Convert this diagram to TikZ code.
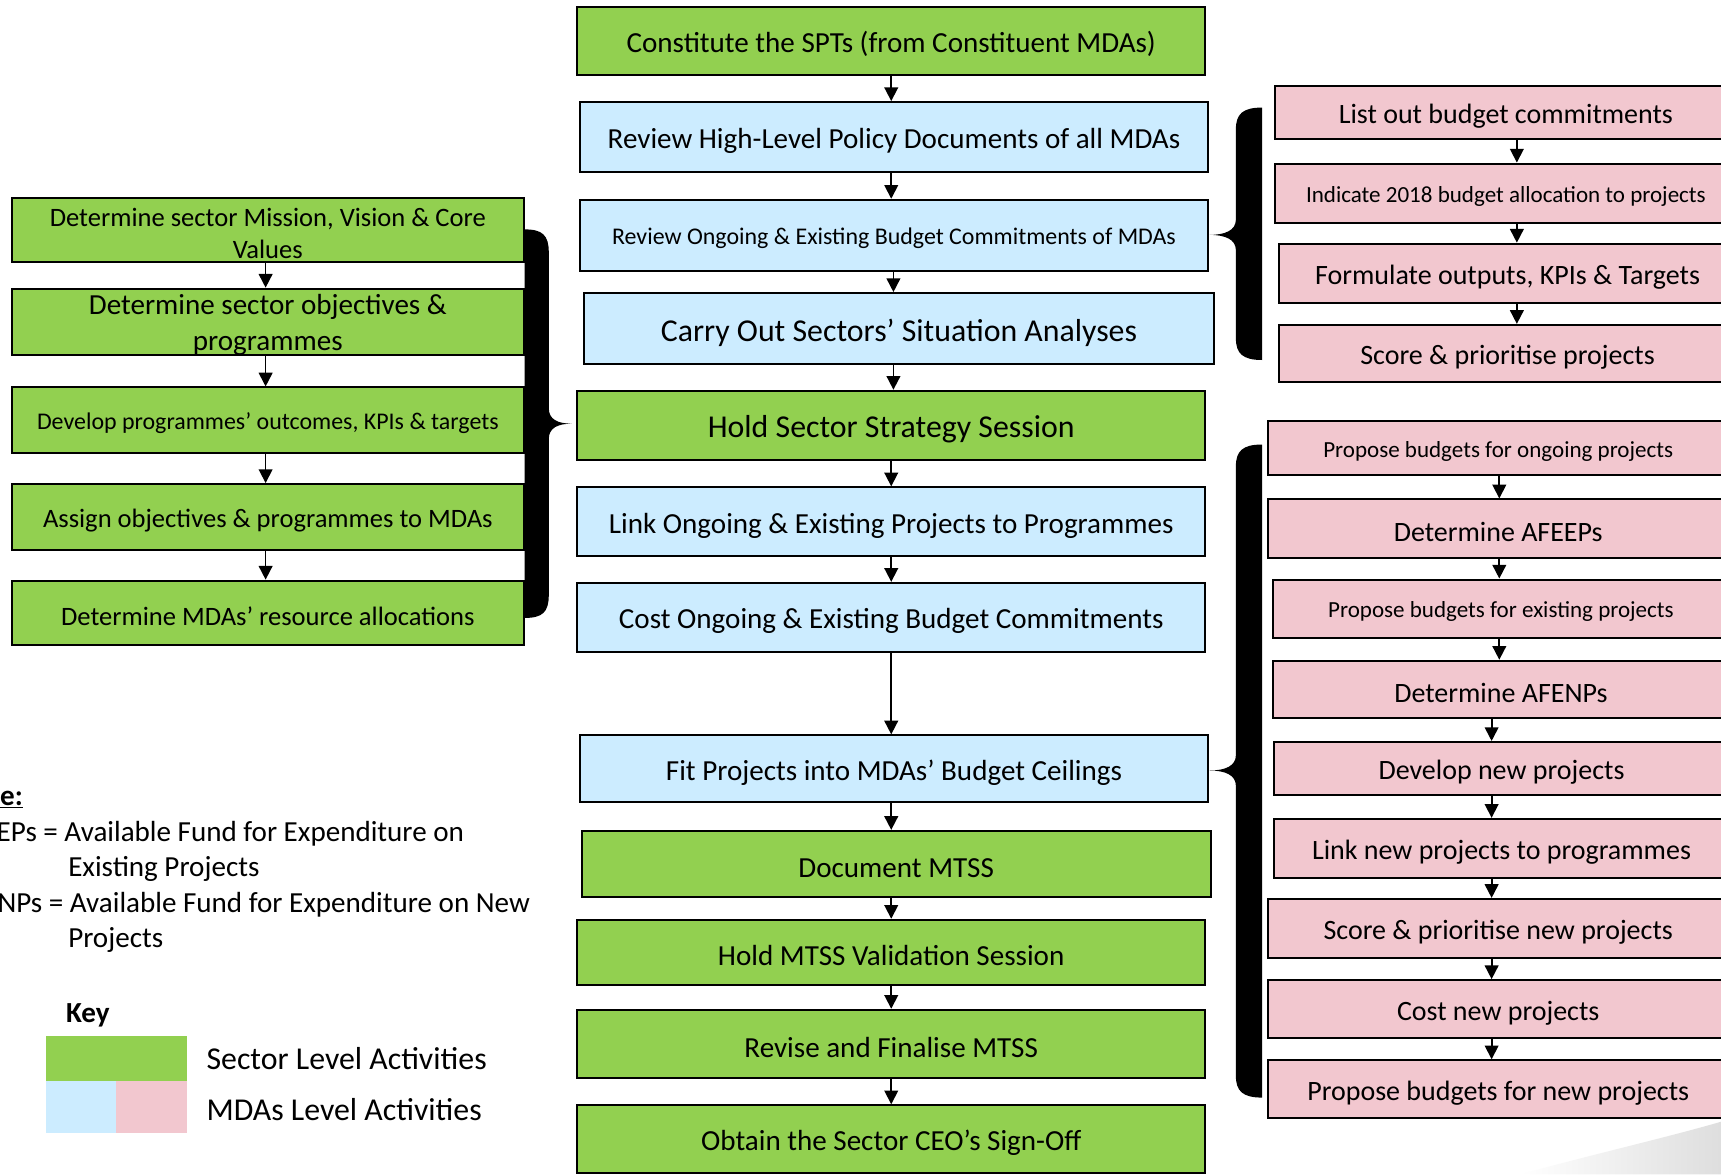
\documentclass[tikz,border=0pt]{standalone}
\usepackage{fontspec}
\setmainfont{Carlito}
\usetikzlibrary{arrows.meta}
\definecolor{secgreen}{RGB}{146,208,80}
\definecolor{mdablue}{RGB}{204,236,255}
\definecolor{mdapink}{RGB}{242,199,207}
\tikzset{
  box/.style={draw=black, line width=1.8pt, inner sep=0pt, align=center, text=black,
    execute at begin node={\rule{0pt}{0.95em}}},
  sgreen/.style={box, fill=secgreen},
  mblue/.style={box, fill=mdablue},
  mpink/.style={box, fill=mdapink},
  fA/.style={font=\fontsize{26.5}{32}\selectfont},
  fB/.style={font=\fontsize{21.8}{26}\selectfont},
  fC/.style={font=\fontsize{29}{35}\selectfont},
  fL/.style={font=\fontsize{24.2}{29}\selectfont},
  fR/.style={font=\fontsize{25.5}{31}\selectfont},
  fS/.style={font=\fontsize{21}{25}\selectfont},
  fK/.style={font=\fontsize{29}{35}\selectfont},
  twoline/.style={inner sep=0pt, align=center, text=black, yshift=-3pt},
  arr/.style={-{Triangle[length=12.5pt,width=12.5pt]}, line width=1.6pt},
  plain/.style={inner sep=0pt, text=black},
}
\begin{document}
\begin{tikzpicture}[x=1pt,y=-1pt]
\useasboundingbox (0,0) rectangle (1568,1070);
\clip (0,0) rectangle (1568,1070);
\fill[white] (0,0) rectangle (1568,1070);

% faint swoosh in the lower right corner
\shade[left color=white, right color=black!13]
  (1385,1070) .. controls (1450,1052) and (1520,1036) .. (1568,1022) -- (1568,1070) -- cycle;

% ---------- central column ----------
\node[sgreen, fA, minimum width=572pt, minimum height=62pt] (c1) at (812,37) {Constitute the SPTs (from Constituent MDAs)};
\node[mblue, fA, minimum width=573pt, minimum height=64pt] (c2) at (814.5,125) {Review High-Level Policy Documents of all MDAs};
\node[mblue, fB, minimum width=573pt, minimum height=65pt] (c3) at (814.5,214.5) {Review Ongoing \& Existing Budget Commitments of MDAs};
\node[mblue, fC, minimum width=574pt, minimum height=65pt] (c4) at (819,299.5) {Carry Out Sectors’ Situation Analyses};
\node[sgreen, fC, minimum width=572pt, minimum height=63pt] (c5) at (812,387.5) {Hold Sector Strategy Session};
\node[mblue, fA, minimum width=572pt, minimum height=63pt] (c6) at (812,475.5) {Link Ongoing \& Existing Projects to Programmes};
\node[mblue, fA, minimum width=572pt, minimum height=63pt] (c7) at (812,562.5) {Cost Ongoing \& Existing Budget Commitments};
\node[mblue, fA, minimum width=573pt, minimum height=61pt] (c8) at (814.5,700.5) {Fit Projects into MDAs’ Budget Ceilings};
\node[sgreen, fA, minimum width=573pt, minimum height=60pt] (c9) at (816.5,787) {Document MTSS};
\node[sgreen, fA, minimum width=572pt, minimum height=59pt] (c10) at (812,867.5) {Hold MTSS Validation Session};
\node[sgreen, fA, minimum width=572pt, minimum height=62pt] (c11) at (812,951) {Revise and Finalise MTSS};
\node[sgreen, fA, minimum width=572pt, minimum height=62pt] (c12) at (812,1038) {Obtain the Sector CEO’s Sign-Off};

\coordinate (xc) at (812,0);
\coordinate (xd) at (814,0);
\draw[arr] (c1.south -| xc) -- (c2.north -| xc);
\draw[arr] (c2.south -| xc) -- (c3.north -| xc);
\draw[arr] (c3.south -| xd) -- (c4.north -| xd);
\draw[arr] (c4.south -| xd) -- (c5.north -| xd);
\draw[arr] (c5.south -| xc) -- (c6.north -| xc);
\draw[arr] (c6.south -| xc) -- (c7.north -| xc);
\draw[arr] (c7.south -| xc) -- (c8.north -| xc);
\draw[arr] (c8.south -| xc) -- (c9.north -| xc);
\draw[arr] (c9.south -| xc) -- (c10.north -| xc);
\draw[arr] (c10.south -| xc) -- (c11.north -| xc);
\draw[arr] (c11.south -| xc) -- (c12.north -| xc);

% ---------- left column ----------
\node[sgreen, minimum width=466pt, minimum height=59pt,
  label={[twoline, fL]center:{Determine sector Mission, Vision \& Core\\Values}}] (l1) at (244,209.5) {};
\node[sgreen, minimum width=466pt, minimum height=60pt,
  label={[twoline, fA]center:{Determine sector objectives \&\\programmes}}] (l2) at (244,293) {};
\node[sgreen, fB, minimum width=466pt, minimum height=60pt] (l3) at (244,383) {Develop programmes’ outcomes, KPIs \& targets};
\node[sgreen, fL, minimum width=466pt, minimum height=60pt] (l4) at (244,471) {Assign objectives \& programmes to MDAs};
\node[sgreen, fL, minimum width=466pt, minimum height=59pt] (l5) at (244,558.5) {Determine MDAs’ resource allocations};

\coordinate (xl) at (242,0);
\draw[arr] (l1.south -| xl) -- (l2.north -| xl);
\draw[arr] (l2.south -| xl) -- (l3.north -| xl);
\draw[arr] (l3.south -| xl) -- (l4.north -| xl);
\draw[arr] (l4.south -| xl) -- (l5.north -| xl);

% ---------- right column, upper group ----------
\node[mpink, fR, minimum width=420pt, minimum height=49pt] (r1) at (1372,102.5) {List out budget commitments};
\node[mpink, fS, minimum width=420pt, minimum height=54pt] (r2) at (1372,176) {Indicate 2018 budget allocation to projects};
\node[mpink, fR, minimum width=417pt, minimum height=54pt] (r3) at (1373.5,249) {Formulate outputs, KPIs \& Targets};
\node[mpink, fR, minimum width=417pt, minimum height=52pt] (r4) at (1373.5,322) {Score \& prioritise projects};

\coordinate (xr) at (1382,0);
\draw[arr] (r1.south -| xr) -- (r2.north -| xr);
\draw[arr] (r2.south -| xr) -- (r3.north -| xr);
\draw[arr] (r3.south -| xr) -- (r4.north -| xr);

% ---------- right column, lower group ----------
\node[mpink, fS, minimum width=420pt, minimum height=49pt] (p1) at (1365,408.5) {Propose budgets for ongoing projects};
\node[mpink, fR, minimum width=420pt, minimum height=53pt] (p2) at (1365,481.5) {Determine AFEEPs};
\node[mpink, fS, minimum width=415pt, minimum height=53pt] (p3) at (1367.5,554.5) {Propose budgets for existing projects};
\node[mpink, fR, minimum width=415pt, minimum height=52pt] (p4) at (1367.5,628) {Determine AFENPs};
\node[mpink, fR, minimum width=414pt, minimum height=48pt] (p5) at (1368,700) {Develop new projects};
\node[mpink, fR, minimum width=414pt, minimum height=54pt] (p6) at (1368,773) {Link new projects to programmes};
\node[mpink, fR, minimum width=420pt, minimum height=54pt] (p7) at (1365,846) {Score \& prioritise new projects};
\node[mpink, fR, minimum width=420pt, minimum height=53pt] (p8) at (1365,919.5) {Cost new projects};
\node[mpink, fR, minimum width=420pt, minimum height=53pt] (p9) at (1365,992.5) {Propose budgets for new projects};

\coordinate (xp) at (1366,0);
\coordinate (xq) at (1359,0);
\draw[arr] (p1.south -| xp) -- (p2.north -| xp);
\draw[arr] (p2.south -| xp) -- (p3.north -| xp);
\draw[arr] (p3.south -| xp) -- (p4.north -| xp);
\draw[arr] (p4.south -| xq) -- (p5.north -| xq);
\draw[arr] (p5.south -| xq) -- (p6.north -| xq);
\draw[arr] (p6.south -| xq) -- (p7.north -| xq);
\draw[arr] (p7.south -| xq) -- (p8.north -| xq);
\draw[arr] (p8.south -| xq) -- (p9.north -| xq);

% ---------- braces ----------
% left group feeds the strategy session
\fill (478,209) .. controls (494,209) and (500,214) .. (500,230) -- (500,372)
  .. controls (500,382) and (508,386) .. (521,386)
  .. controls (508,386) and (500,390) .. (500,400) -- (500,542)
  .. controls (500,558) and (494,563) .. (478,563) -- cycle;
% upper right group
\fill (1150,98) .. controls (1132,98) and (1126,104) .. (1126,118) -- (1126,200)
  .. controls (1126,210) and (1116,214) .. (1102,214)
  .. controls (1116,214) and (1126,218) .. (1126,228) -- (1126,308)
  .. controls (1126,322) and (1132,328) .. (1150,328) -- cycle;
% lower right group
\fill (1150,405) .. controls (1132,405) and (1126,411) .. (1126,425) -- (1126,688)
  .. controls (1126,698) and (1116,702) .. (1102,702)
  .. controls (1116,702) and (1126,706) .. (1126,716) -- (1126,980)
  .. controls (1126,994) and (1132,1000) .. (1150,1000) -- cycle;

% ---------- note ----------
\node[plain, fA, anchor=base west] (nh) at (0,734) {\textbf{\underline{e:}}};
\node[plain, fA, anchor=base east] (n1) at (423,767) {EPs = Available Fund for Expenditure on};
\node[plain, fA, anchor=base west] (n2) at (62,799) {Existing Projects};
\node[plain, fA, anchor=base east] (n3) at (483,831) {NPs = Available Fund for Expenditure on New};
\node[plain, fA, anchor=base west] (n4) at (62,863) {Projects};

% ---------- key ----------
\node[plain, fA, anchor=base west] (kt) at (60,932) {\textbf{Key}};
\node[fill=secgreen, inner sep=0pt, minimum width=128pt, minimum height=41pt] (kg) at (106,964.5) {};
\node[fill=mdablue, inner sep=0pt, minimum width=64pt, minimum height=47pt] (kb) at (74,1008.5) {};
\node[fill=mdapink, inner sep=0pt, minimum width=64pt, minimum height=47pt] (kp) at (138,1008.5) {};
\node[plain, fK, anchor=base west] (ks) at (188,974) {Sector Level Activities};
\node[plain, fK, anchor=base west] (km) at (188,1021) {MDAs Level Activities};
\end{tikzpicture}
\end{document}
